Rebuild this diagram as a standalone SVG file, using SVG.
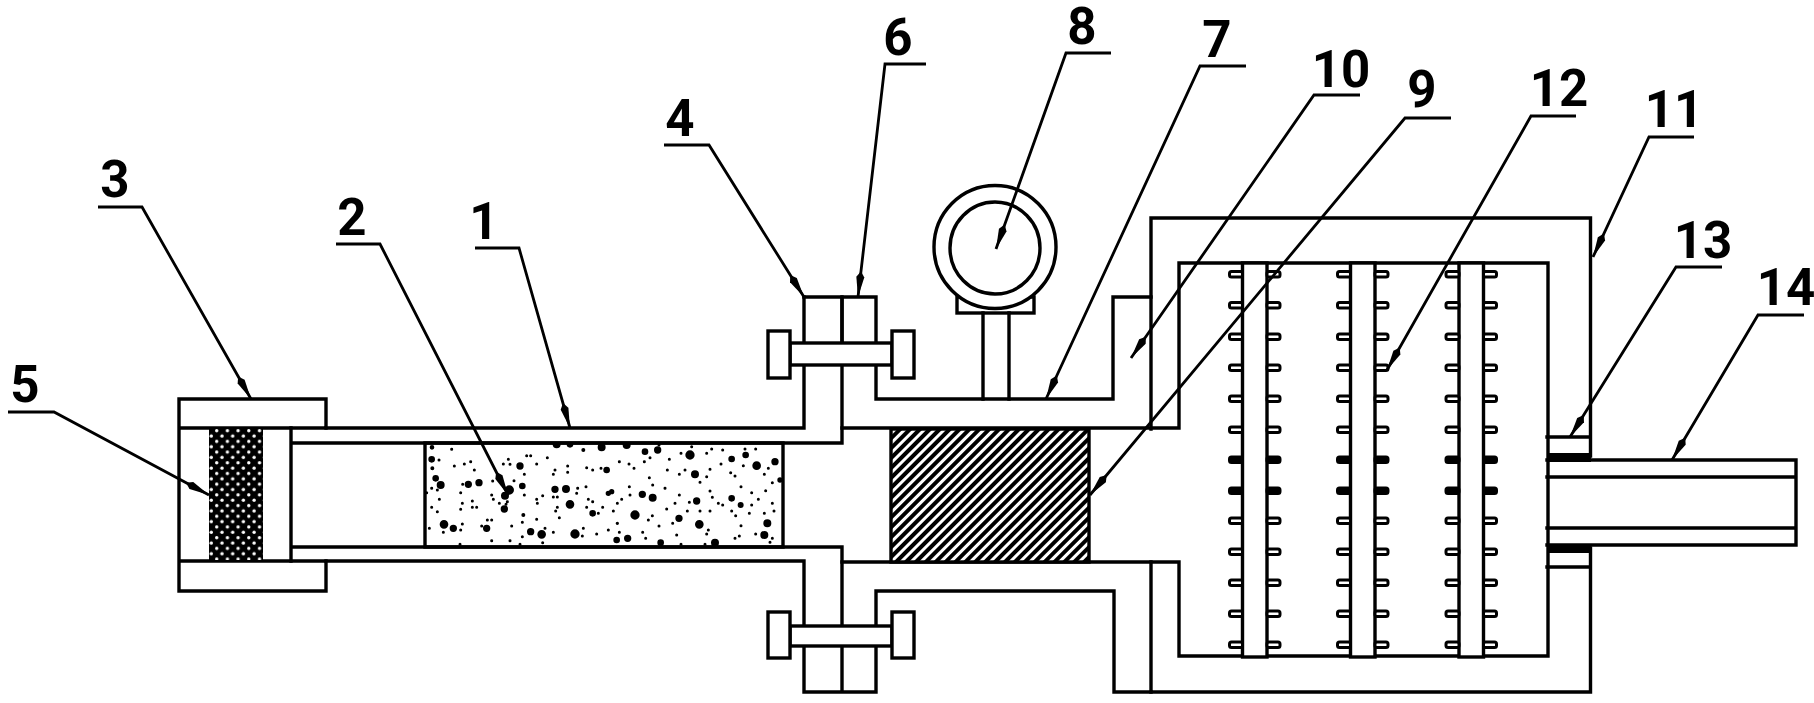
<svg xmlns="http://www.w3.org/2000/svg" xmlns:xlink="http://www.w3.org/1999/xlink" width="1814" height="703" viewBox="0 0 1814 703">
<style>
.l{fill:none;stroke:#000;stroke-width:3.4;stroke-linecap:square}
.w{fill:#fff;stroke:#000;stroke-width:3.4}
.t{fill:#fff;stroke:#000;stroke-width:3}
.b{fill:#000;stroke:#000;stroke-width:3}
.lead{fill:none;stroke:#000;stroke-width:2.8;marker-end:url(#arrow)}
.num{font-family:Roboto,"Liberation Sans",Arial,sans-serif;font-weight:700;font-size:51px;fill:#000;text-anchor:middle}
.sm{fill:none;stroke:#000;stroke-width:9;stroke-linecap:round}
</style>
<defs>
<marker id="arrow" markerUnits="userSpaceOnUse" markerWidth="28" markerHeight="10" refX="26" refY="5" orient="auto">
<path d="M26 5L6 1L0 5L6 9Z" fill="#000"/>
</marker>
<pattern id="hatch" width="7" height="7" patternUnits="userSpaceOnUse" patternTransform="rotate(45)">
<rect width="7" height="7" fill="#fff"/><rect width="4" height="7" fill="#000"/>
</pattern>
<pattern id="mesh" width="10.7" height="10.7" patternUnits="userSpaceOnUse">
<rect width="10.7" height="10.7" fill="#000"/><circle cx="2.7" cy="2.7" r="1.7" fill="#fff"/><circle cx="8" cy="8" r="1.7" fill="#fff"/>
</pattern>
<clipPath id="sc"><rect x="425" y="443" width="358" height="104"/></clipPath>
<g id="tabs">
<rect class="t" rx="2" x="-13" y="271.500" width="13" height="5.500"/><rect class="t" rx="2" x="24.500" y="271.500" width="13" height="5.500"/>
<rect class="t" rx="2" x="-13" y="302.500" width="13" height="5.500"/><rect class="t" rx="2" x="24.500" y="302.500" width="13" height="5.500"/>
<rect class="t" rx="2" x="-13" y="334" width="13" height="5.500"/><rect class="t" rx="2" x="24.500" y="334" width="13" height="5.500"/>
<rect class="t" rx="2" x="-13" y="365" width="13" height="5.500"/><rect class="t" rx="2" x="24.500" y="365" width="13" height="5.500"/>
<rect class="t" rx="2" x="-13" y="396" width="13" height="5.500"/><rect class="t" rx="2" x="24.500" y="396" width="13" height="5.500"/>
<rect class="t" rx="2" x="-13" y="427" width="13" height="5.500"/><rect class="t" rx="2" x="24.500" y="427" width="13" height="5.500"/>
<rect class="b" rx="2" x="-13" y="457" width="13" height="5.500"/><rect class="b" rx="2" x="24.500" y="457" width="13" height="5.500"/>
<rect class="b" rx="2" x="-13" y="488" width="13" height="5.500"/><rect class="b" rx="2" x="24.500" y="488" width="13" height="5.500"/>
<rect class="t" rx="2" x="-13" y="518" width="13" height="5.500"/><rect class="t" rx="2" x="24.500" y="518" width="13" height="5.500"/>
<rect class="t" rx="2" x="-13" y="549" width="13" height="5.500"/><rect class="t" rx="2" x="24.500" y="549" width="13" height="5.500"/>
<rect class="t" rx="2" x="-13" y="580" width="13" height="5.500"/><rect class="t" rx="2" x="24.500" y="580" width="13" height="5.500"/>
<rect class="t" rx="2" x="-13" y="611" width="13" height="5.500"/><rect class="t" rx="2" x="24.500" y="611" width="13" height="5.500"/>
<rect class="t" rx="2" x="-13" y="642" width="13" height="5.500"/><rect class="t" rx="2" x="24.500" y="642" width="13" height="5.500"/>
</g>
</defs>
<rect width="1814" height="703" fill="#fff"/>

<g id="tube">
<path class="l" d="M326 428H804V297M842 297V443H291M291 428V561M326 561H804V692H876V591H1114V692H1151M842 547V692M291 547H842"/>
</g>
<g id="end-cap">
<path class="l" d="M326 428V399H179V591H326V561M179 428H326M179 561H326"/>
</g>
<g id="filter-mesh">
<rect x="209" y="429" width="54" height="131" fill="url(#mesh)"/>
</g>
<g id="sample">
<rect x="425" y="443" width="358" height="104" class="l"/>
<g clip-path="url(#sc)">
<g transform="translate(420 435) scale(.3333)">
<path class="sm" d="M95 43h.1M57 75h.1M103 93h.1M133 87h.1M152 80h.1M163 105h.1M265 73h.1M250 87h.1M270 88h.1M320 62h.1M332 62h.1M350 87h.1M382 68h.1M313 118h.1M405 105h.1M400 118h.1M443 93h.1M443 112h.1M500 98h.1M518 105h.1M543 100h.1M218 138h.1M282 137h.1M128 148h.1M35 160h.1M52 165h.1M20 173h.1M122 173h.1M215 180h.1M220 193h.1M313 180h.1M368 182h.1M400 186h.1M412 186h.1M470 175h.1M473 160h.1M498 155h.1M350 193h.1M352 205h.1M58 193h.1M157 198h.1M127 205h.1M35 217h.1M52 230h.1M157 217h.1M170 217h.1M122 223h.1M238 205h.1M262 200h.1M258 208h.1M412 217h.1M407 228h.1M505 193h.1M518 200h.1M500 217h.1M548 217h.1M535 235h.1M418 248h.1M350 253h.1M307 262h.1M202 255h.1M215 255h.1M127 267h.1M185 273h.1M275 273h.1M28 280h.1M70 292h.1M122 285h.1M375 280h.1M400 292h.1M490 280h.1M487 303h.1M530 297h.1M565 285h.1M307 305h.1M215 317h.1M270 317h.1M368 323h.1M120 328h.1M300 328h.1"/>
<path d="M35 73m-10 0a10 10 0 1 0 20 0a10 10 0 1 0-20 0M37 100m-6 0a6 6 0 1 0 12 0a6 6 0 1 0-12 0M47 130m-10 0a10 10 0 1 0 20 0a10 10 0 1 0-20 0M62 150m-12 0a12 12 0 1 0 24 0a12 12 0 1 0-24 0M145 148m-11 0a11 11 0 1 0 22 0a11 11 0 1 0-22 0M177 143m-11 0a11 11 0 1 0 22 0a11 11 0 1 0-22 0M300 93m-11 0a11 11 0 1 0 22 0a11 11 0 1 0-22 0M268 165m-14 0a14 14 0 1 0 28 0a14 14 0 1 0-28 0M255 182m-12 0a12 12 0 1 0 24 0a12 12 0 1 0-24 0M307 153m-10 0a10 10 0 1 0 20 0a10 10 0 1 0-20 0M405 163m-11 0a11 11 0 1 0 22 0a11 11 0 1 0-22 0M438 162m-12 0a12 12 0 1 0 24 0a12 12 0 1 0-24 0M450 208m-13 0a13 13 0 1 0 26 0a13 13 0 1 0-26 0M518 235m-10 0a10 10 0 1 0 20 0a10 10 0 1 0-20 0M545 37m-12 0a12 12 0 1 0 24 0a12 12 0 1 0-24 0M490 45m-6 0a6 6 0 1 0 12 0a6 6 0 1 0-12 0M560 105m-10 0a10 10 0 1 0 20 0a10 10 0 1 0-20 0M565 175m-8 0a8 8 0 1 0 16 0a8 8 0 1 0-16 0M253 222m-11 0a11 11 0 1 0 22 0a11 11 0 1 0-22 0M72 268m-13 0a13 13 0 1 0 26 0a13 13 0 1 0-26 0M100 280m-11 0a11 11 0 1 0 22 0a11 11 0 1 0-22 0M200 280m-11 0a11 11 0 1 0 22 0a11 11 0 1 0-22 0M332 290m-11 0a11 11 0 1 0 22 0a11 11 0 1 0-22 0M365 298m-13 0a13 13 0 1 0 26 0a13 13 0 1 0-26 0M465 297m-14 0a14 14 0 1 0 28 0a14 14 0 1 0-28 0M310 240m-6 0a6 6 0 1 0 12 0a6 6 0 1 0-12 0M410 28m-12 0a12 12 0 1 0 24 0a12 12 0 1 0-24 0M450 28m-10 0a10 10 0 1 0 20 0a10 10 0 1 0-20 0M36 37m-7 0a7 7 0 1 0 14 0a7 7 0 1 0-14 0"/>
</g>
<g transform="translate(610 435) scale(.3333)">
<path class="sm" d="M147 30h.1M245 35h.1M213 55h.1M305 42h.1M338 45h.1M290 55h.1M405 42h.1M437 42h.1M120 68h.1M178 73h.1M28 80h.1M57 87h.1M72 100h.1M103 80h.1M333 87h.1M400 92h.1M172 105h.1M225 105h.1M208 118h.1M300 103h.1M290 125h.1M362 113h.1M375 123h.1M475 100h.1M463 118h.1M118 128h.1M128 150h.1M58 155h.1M165 160h.1M60 180h.1M300 168h.1M270 142h.1M393 155h.1M425 173h.1M467 167h.1M487 143h.1M208 180h.1M35 193h.1M22 205h.1M195 205h.1M238 202h.1M307 187h.1M325 205h.1M338 210h.1M445 193h.1M425 210h.1M487 205h.1M170 222h.1M10 228h.1M232 228h.1M270 228h.1M300 228h.1M365 228h.1M377 242h.1M418 235h.1M463 235h.1M492 228h.1M127 242h.1M115 255h.1M147 273h.1M188 265h.1M393 272h.1M295 285h.1M98 292h.1M28 292h.1M107 310h.1M200 300h.1M290 297h.1M375 310h.1M388 303h.1M437 297h.1M487 310h.1M480 322h.1M213 328h.1M285 328h.1"/>
<path d="M50 30m-12 0a12 12 0 1 0 24 0a12 12 0 1 0-24 0M105 50m-10 0a10 10 0 1 0 20 0a10 10 0 1 0-20 0M143 45m-11 0a11 11 0 1 0 22 0a11 11 0 1 0-22 0M240 60m-14 0a14 14 0 1 0 28 0a14 14 0 1 0-28 0M365 72m-10 0a10 10 0 1 0 20 0a10 10 0 1 0-20 0M407 60m-10 0a10 10 0 1 0 20 0a10 10 0 1 0-20 0M440 92m-13 0a13 13 0 1 0 26 0a13 13 0 1 0-26 0M495 80m-11 0a11 11 0 1 0 22 0a11 11 0 1 0-22 0M255 118m-12 0a12 12 0 1 0 24 0a12 12 0 1 0-24 0M97 178m-11 0a11 11 0 1 0 22 0a11 11 0 1 0-22 0M128 188m-12 0a12 12 0 1 0 24 0a12 12 0 1 0-24 0M5 170m-8 0a8 8 0 1 0 16 0a8 8 0 1 0-16 0M260 198m-11 0a11 11 0 1 0 22 0a11 11 0 1 0-22 0M365 190m-10 0a10 10 0 1 0 20 0a10 10 0 1 0-20 0M392 210m-9 0a9 9 0 1 0 18 0a9 9 0 1 0-18 0M75 240m-14 0a14 14 0 1 0 28 0a14 14 0 1 0-28 0M207 250m-11 0a11 11 0 1 0 22 0a11 11 0 1 0-22 0M268 268m-13 0a13 13 0 1 0 26 0a13 13 0 1 0-26 0M472 265m-12 0a12 12 0 1 0 24 0a12 12 0 1 0-24 0M463 300m-12 0a12 12 0 1 0 24 0a12 12 0 1 0-24 0M53 310m-11 0a11 11 0 1 0 22 0a11 11 0 1 0-22 0M20 315m-10 0a10 10 0 1 0 20 0a10 10 0 1 0-20 0M152 323m-10 0a10 10 0 1 0 20 0a10 10 0 1 0-20 0M315 323m-12 0a12 12 0 1 0 24 0a12 12 0 1 0-24 0M22 265m-5 0a5 5 0 1 0 10 0a5 5 0 1 0-10 0M510 135m-8 0a8 8 0 1 0 16 0a8 8 0 1 0-16 0"/>
</g>
</g>
</g>
<g id="top-valve">
<path class="l" d="M804 297H876V399H1113V297H1151M842 297V343"/>
<rect class="w" x="790" y="343" width="102" height="22"/>
<rect class="w" x="768" y="331" width="22" height="47"/>
<rect class="w" x="892" y="331" width="22" height="47"/>
</g>
<g id="bottom-valve">
<rect class="w" x="790" y="626" width="102" height="20"/>
<rect class="w" x="768" y="612" width="22" height="46"/>
<rect class="w" x="892" y="612" width="22" height="46"/>
</g>
<g id="gauge">
<rect class="w" x="957" y="297" width="77" height="16"/>
<path class="l" d="M983 313V399M1009 313V399"/>
<ellipse class="w" cx="995" cy="247" rx="61" ry="61.500"/>
<ellipse class="w" cx="995" cy="248" rx="45" ry="46"/>
</g>
<g id="chamber">
<path class="l" d="M842 428H1179V263H1548V656H1179V562H842"/>
</g>
<g id="filter-block">
<rect x="891" y="429" width="198" height="133" fill="url(#hatch)" stroke="#000" stroke-width="3.4"/>
</g>
<g id="housing">
<path class="l" d="M1151 429V218H1590.500V456M1151 562V692H1590.500V548"/>
</g>
<g id="plates">
<rect class="w" x="1242.500" y="263" width="24.500" height="394"/>
<rect class="w" x="1350.500" y="263" width="24.500" height="394"/>
<rect class="w" x="1459" y="263" width="24.500" height="394"/>
<use href="#tabs" x="1242.500"/>
<use href="#tabs" x="1350.500"/>
<use href="#tabs" x="1459"/>
</g>
<g id="outlet">
<path class="l" d="M1547 437H1590M1547 567H1590"/>
<rect x="1547" y="453" width="44" height="9" fill="#000"/>
<rect x="1547" y="544" width="44" height="9" fill="#000"/>
<path class="l" d="M1547 460H1796V545H1547M1547 477H1796M1547 528H1796"/>
</g>

<g id="connectors">
<path class="lead" d="M98 207H142L251 399"/>
<path class="lead" d="M8 412H54L209 495"/>
<path class="lead" d="M336 244H380L508 495"/>
<path class="lead" d="M475 248H519L570 428"/>
<path class="lead" d="M664 145H709L804 297"/>
<path class="lead" d="M926 64H885L858 297"/>
<path class="lead" d="M1111 53H1066L996 249"/>
<path class="lead" d="M1246 66H1200L1046 399"/>
<path class="lead" d="M1360 95H1314L1131 358"/>
<path class="lead" d="M1451 118H1405L1090 495"/>
<path class="lead" d="M1576 116H1531L1387 370"/>
<path class="lead" d="M1694 137H1649L1593 257"/>
<path class="lead" d="M1722 267H1676L1570 437"/>
<path class="lead" d="M1804 315H1758L1672 460"/>
</g>
<g id="labels">
<text class="num" x="484" y="239">1</text>
<text class="num" x="352" y="235">2</text>
<text class="num" x="115" y="197">3</text>
<text class="num" x="680" y="136">4</text>
<text class="num" x="25" y="402">5</text>
<text class="num" x="898" y="55">6</text>
<text class="num" x="1217" y="57">7</text>
<text class="num" x="1082" y="44">8</text>
<text class="num" x="1422" y="107">9</text>
<text class="num" x="1341" y="87">10</text>
<text class="num" x="1674" y="127">11</text>
<text class="num" x="1559" y="106">12</text>
<text class="num" x="1703" y="258">13</text>
<text class="num" x="1786" y="305">14</text>
</g>
</svg>
